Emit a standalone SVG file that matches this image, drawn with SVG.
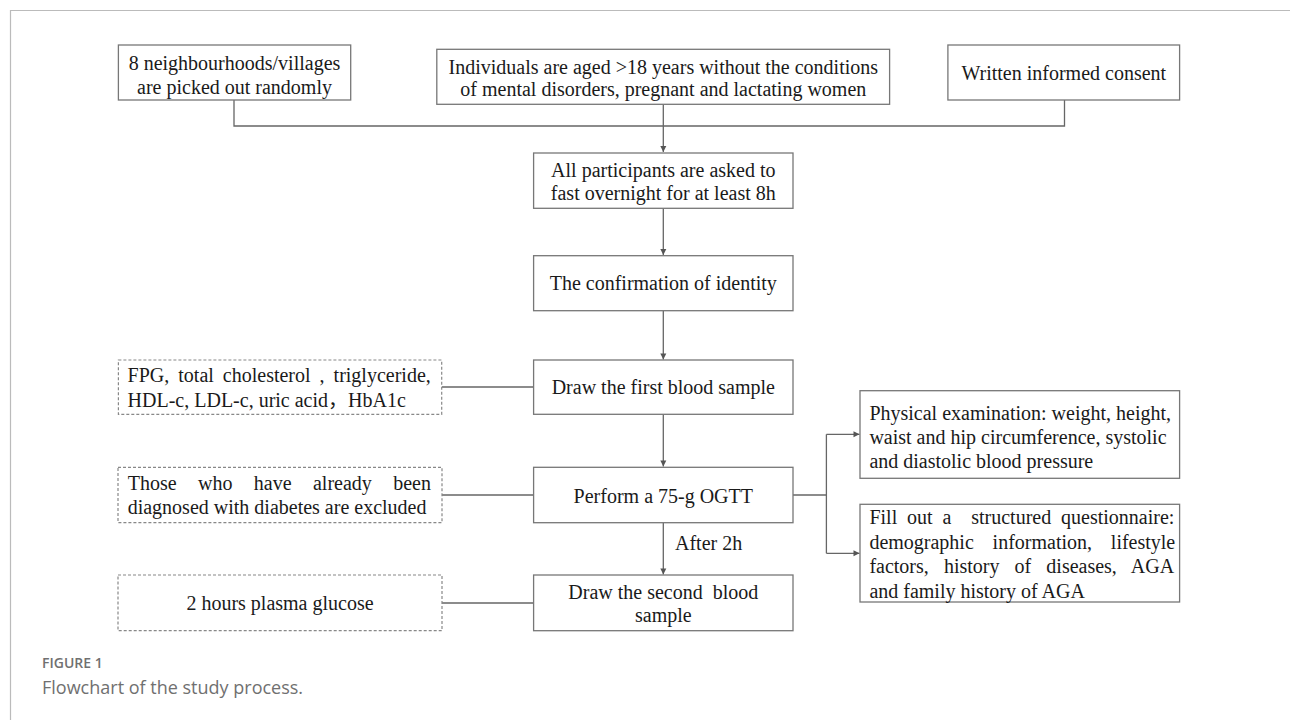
<svg xmlns="http://www.w3.org/2000/svg" width="1290" height="720" viewBox="0 0 1290 720">
<defs>
<marker id="ah" markerWidth="8" markerHeight="8" refX="7" refY="4" orient="auto" markerUnits="userSpaceOnUse">
<path d="M1,1 L7,4 L1,7 Z" fill="#555"/>
</marker>
<style>
.box{fill:#fff;stroke:#777;stroke-width:1.3}
.dbox{fill:#fff;stroke:#888;stroke-width:1.2;stroke-dasharray:3 2}
.t{font-family:"Liberation Serif","Noto Sans CJK SC",serif;font-size:20px;fill:#1a1a1a}
.c{text-anchor:middle}
.ln{fill:none;stroke:#666;stroke-width:1.3}
.cap{font-family:"Open Sans","Liberation Sans",sans-serif;fill:#707070}
</style>
</defs>
<rect width="1290" height="720" fill="#fff"/>
<path d="M10.5,720 V10.5 H1290" fill="none" stroke="#bbb" stroke-width="1.2"/>

<g id="connectors">
<path class="ln" d="M234,100 V126 H1064.5 V100"/>
<path class="ln" d="M663.3,104.3 V152" marker-end="url(#ah)"/>
<path class="ln" d="M663.3,208.3 V255" marker-end="url(#ah)"/>
<path class="ln" d="M663.3,310.7 V359.5" marker-end="url(#ah)"/>
<path class="ln" d="M663.3,414.3 V466.5" marker-end="url(#ah)"/>
<path class="ln" d="M663.3,522.7 V574.5" marker-end="url(#ah)"/>
<path class="ln" d="M442,387 H533.6"/>
<path class="ln" d="M442,495 H533.6"/>
<path class="ln" d="M442,603 H533.6"/>
<path class="ln" d="M793,495 H826.4"/>
<path class="ln" d="M826.4,434.3 V553.3"/>
<path class="ln" d="M826.4,434.3 H859.5" marker-end="url(#ah)"/>
<path class="ln" d="M826.4,553.3 H859.5" marker-end="url(#ah)"/>
<text class="t" x="675" y="550">After 2h</text>
</g>

<g id="n1">
<rect class="box" x="118.4" y="45" width="232.3" height="55"/>
<text class="t c" x="234.5" y="70">8 neighbourhoods/villages</text>
<text class="t c" x="234.5" y="94">are picked out randomly</text>
</g>
<g id="n2">
<rect class="box" x="436.8" y="49.3" width="452.8" height="55"/>
<text class="t c" x="663.3" y="73.5">Individuals are aged &gt;18 years without the conditions</text>
<text class="t c" x="663.3" y="96">of mental disorders, pregnant and lactating women</text>
</g>
<g id="n3">
<rect class="box" x="947.9" y="45" width="231.7" height="55"/>
<text class="t c" x="1063.8" y="80">Written informed consent</text>
</g>
<g id="n4">
<rect class="box" x="533.6" y="153" width="259.4" height="55.3"/>
<text class="t c" x="663.3" y="177">All participants are asked to</text>
<text class="t c" x="663.3" y="200">fast overnight for at least 8h</text>
</g>
<g id="n5">
<rect class="box" x="533.6" y="255.7" width="259.4" height="55"/>
<text class="t c" x="663.3" y="290">The confirmation of identity</text>
</g>
<g id="n6">
<rect class="box" x="533.6" y="360" width="259.4" height="54.3"/>
<text class="t c" x="663.3" y="394">Draw the first blood sample</text>
</g>
<g id="n7">
<rect class="dbox" x="118.4" y="360" width="323.3" height="54.3"/>
<text class="t" x="127.6" y="382" word-spacing="4">FPG, total cholesterol , triglyceride,</text>
<text class="t" x="127.6" y="407">HDL-c, LDL-c, uric acid，HbA1c</text>
</g>
<g id="n8">
<rect class="box" x="533.6" y="467.3" width="259.4" height="55.4"/>
<text class="t c" x="663.3" y="503">Perform a 75-g OGTT</text>
</g>
<g id="n9">
<rect class="dbox" x="118" y="467.3" width="324" height="55.4"/>
<text class="t" x="127.7" y="490" word-spacing="16.4">Those who have already been</text>
<text class="t" x="127.7" y="514">diagnosed with diabetes are excluded</text>
</g>
<g id="n10">
<rect class="box" x="533.6" y="575" width="259.4" height="55.7"/>
<text class="t c" x="663.3" y="598.5" xml:space="preserve">Draw the second  blood</text>
<text class="t c" x="663.3" y="622">sample</text>
</g>
<g id="n11">
<rect class="dbox" x="118" y="575" width="324" height="55.7"/>
<text class="t c" x="280" y="610">2 hours plasma glucose</text>
</g>
<g id="n12">
<rect class="box" x="860" y="390.7" width="319.6" height="87.6"/>
<text class="t" x="869.4" y="420">Physical examination: weight, height,</text>
<text class="t" x="869.4" y="444">waist and hip circumference, systolic</text>
<text class="t" x="869.4" y="468">and diastolic blood pressure</text>
</g>
<g id="n13">
<rect class="box" x="860" y="504.3" width="319.6" height="97.7"/>
<text class="t" x="869.4" y="524" word-spacing="4.9" xml:space="preserve">Fill out a  structured questionnaire:</text>
<text class="t" x="869.4" y="548.5" word-spacing="13.8">demographic information, lifestyle</text>
<text class="t" x="869.4" y="573" word-spacing="10.1">factors, history of diseases, AGA</text>
<text class="t" x="869.4" y="597.5">and family history of AGA</text>
</g>

<g id="caption">
<text class="cap" x="42" y="668" font-size="14" font-weight="600">FIGURE 1</text>
<text class="cap" x="42" y="694" font-size="18">Flowchart of the study process.</text>
</g>
</svg>
